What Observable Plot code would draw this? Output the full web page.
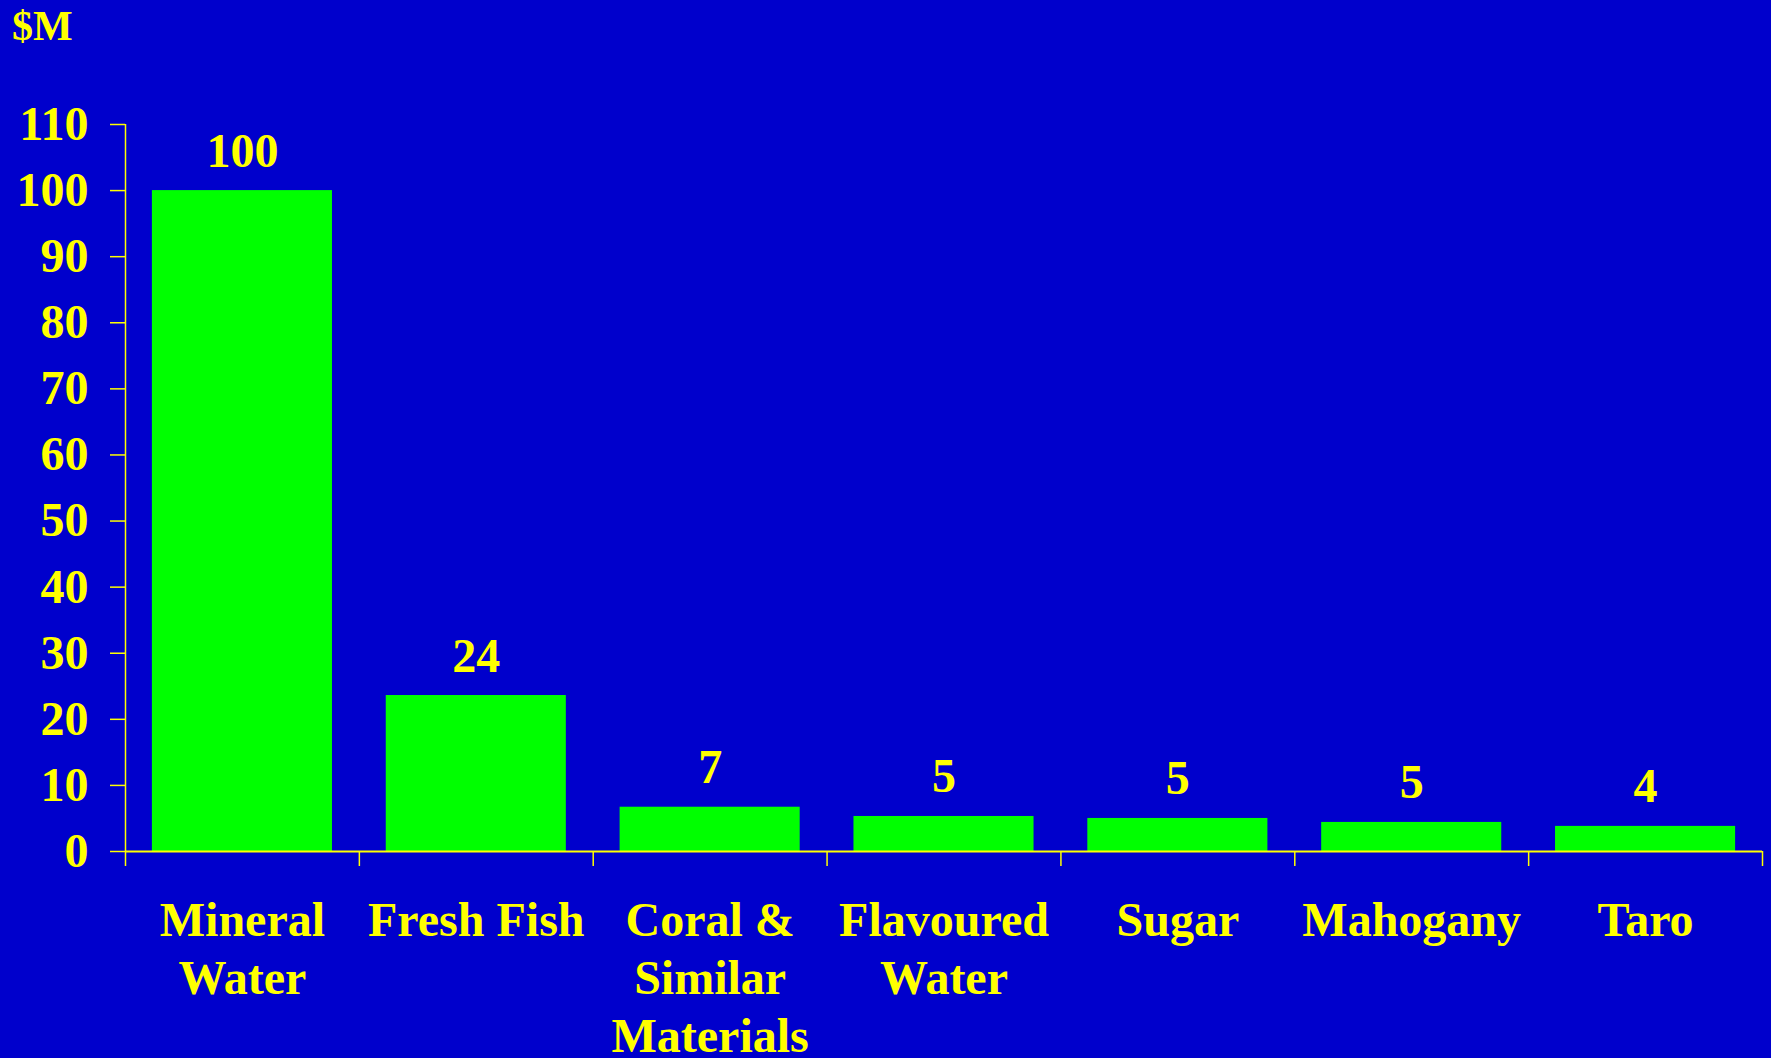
<!DOCTYPE html>
<html><head><meta charset="utf-8">
<script src="https://cdn.jsdelivr.net/npm/d3@7"></script>
<script src="https://cdn.jsdelivr.net/npm/@observablehq/plot@0.6"></script>
<style>
html,body{margin:0;padding:0;background:#0000CC;overflow:hidden}
#unit{height:60px;line-height:52px;padding-left:12px;font-family:"Liberation Serif",serif;font-weight:bold;font-size:42px;color:#FFFF00;overflow:hidden}
</style></head><body>
<div id="unit">$M</div>
<div id="chart"></div>
<script>
const categories = ["Mineral\nWater", "Fresh Fish", "Coral &\nSimilar\nMaterials", "Flavoured\nWater", "Sugar", "Mahogany", "Taro"];
const values = [100, 23.6, 6.7, 5.3, 5.0, 4.4, 3.8];
const valueLabels = ["100", "24", "7", "5", "5", "5", "4"];
const yTicks = [0, 10, 20, 30, 40, 50, 60, 70, 80, 90, 100, 110];

const data = categories.map((c, i) => ({category: c, value: values[i], label: valueLabels[i]}));

const W = 1771, H = 998, ML = 125, MR = 9, MT = 64, MB = 207;
const step = (W - ML - MR) / categories.length;
const yellow = "#FFFF00";

const chart = Plot.plot({
  width: W, height: H,
  marginLeft: ML, marginRight: MR, marginTop: MT, marginBottom: MB,
  style: {background: "#0000CC", color: yellow, fontFamily: "Liberation Serif", fontSize: "48px", fontWeight: "bold"},
  x: {domain: categories, paddingInner: 0.23, paddingOuter: 0.115, round: false, label: null},
  y: {domain: [0, 110], label: null},
  marks: [
    Plot.barY(data, {x: "category", y: "value", fill: "#00FF00"}),
    Plot.text(data, {x: "category", y: "value", text: "label", lineAnchor: "bottom", dy: -24, fill: yellow, fontSize: 48, fontWeight: "bold"}),
    Plot.axisY({ticks: yTicks, tickSize: 15, tickPadding: 22, fontSize: 48, fontWeight: "bold", stroke: yellow, fill: yellow, strokeWidth: 1.5, label: null}),
    Plot.axisX({tickSize: 0, tickPadding: 44, lineHeight: 1.2, fontSize: 48, fontWeight: "bold", fill: yellow, label: null}),
    Plot.ruleX([categories[0]], {x: d => d, dx: -step / 2, y1: 0, y2: 110, stroke: yellow, strokeWidth: 1.5}),
    Plot.ruleX(categories, {x: d => d, dx: -step / 2, y1: 0, insetTop: 15, stroke: yellow, strokeWidth: 1.5}),
    Plot.ruleX([categories[categories.length - 1]], {x: d => d, dx: step / 2, y1: 0, insetTop: 15, stroke: yellow, strokeWidth: 1.5}),
    Plot.ruleY([0], {stroke: yellow, strokeWidth: 2})
  ]
});
document.getElementById("chart").appendChild(chart);
</script>
</body></html>
